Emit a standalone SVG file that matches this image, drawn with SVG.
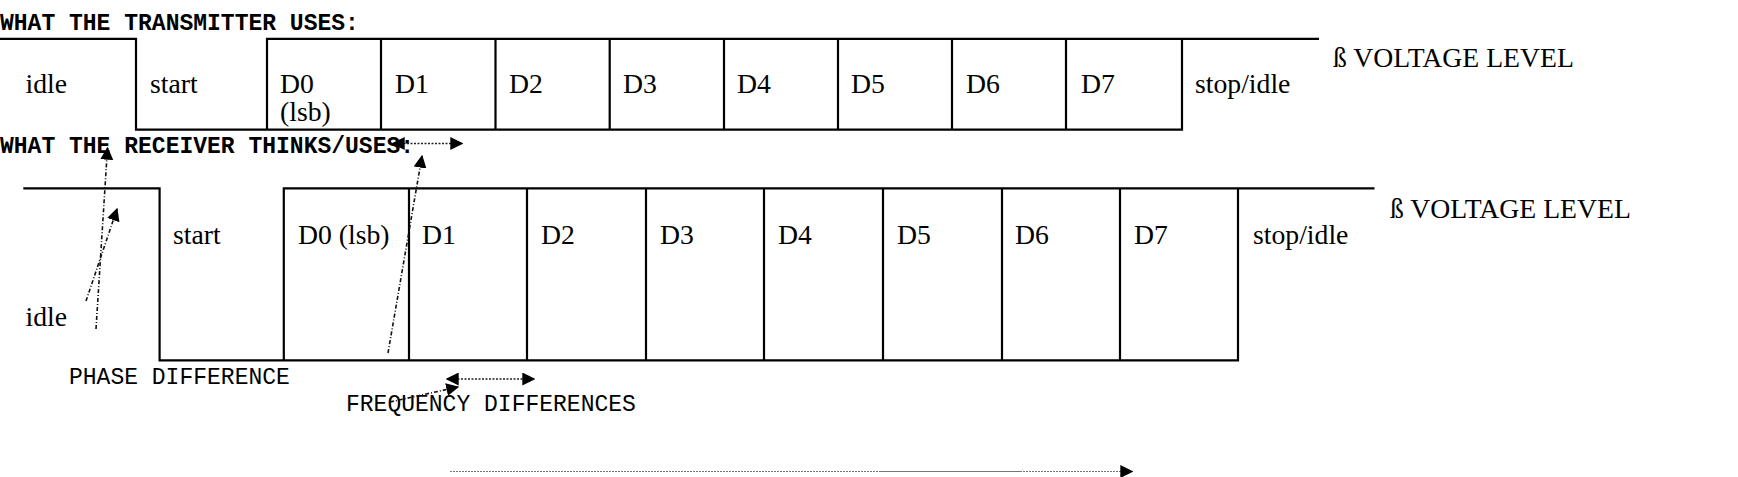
<svg xmlns="http://www.w3.org/2000/svg" width="1738" height="477" viewBox="0 0 1738 477">
<style>
.wave{fill:none;stroke:#000;stroke-width:2.2}
.title{font-family:"Liberation Mono",monospace;font-weight:bold;font-size:23px;fill:#000}
.mono{font-family:"Liberation Mono",monospace;font-size:23px;fill:#000}
.lbl{font-family:"Liberation Serif",serif;font-size:27.7px;fill:#000}
.arr{fill:none;stroke:#111;stroke-width:1.6;stroke-dasharray:4 2 1 2}
.dot{fill:none;stroke:#222;stroke-width:1.6;stroke-dasharray:2 1.5}
.thin{fill:none;stroke:#777;stroke-width:1;stroke-dasharray:2 1}
</style>
<defs>
<marker id="ah" viewBox="0 0 10 10" refX="9" refY="5" markerWidth="13" markerHeight="13" markerUnits="userSpaceOnUse" orient="auto-start-reverse">
<path d="M0,0 L10,5 L0,10 z" fill="#000"/>
</marker>
</defs>
<rect width="1738" height="477" fill="#fff"/>

<g id="title-transmitter"><text class="title" x="0" y="30">WHAT THE TRANSMITTER USES:</text></g>

<g id="transmitter-waveform">
<path class="wave" d="M0,38.8 H136 V129.7 H267 V38.8 H1319 M267,129.7 H1182 V38.8 M381,38.8 V129.7 M495.5,38.8 V129.7 M609.7,38.8 V129.7 M724,38.8 V129.7 M838,38.8 V129.7 M952,38.8 V129.7 M1066,38.8 V129.7"/>
</g>
<g id="tx-labels">
<text class="lbl" x="25.5" y="93">idle</text>
<text class="lbl" x="150" y="93">start</text>
<text class="lbl" x="280" y="93">D0</text>
<text class="lbl" x="280" y="121">(lsb)</text>
<text class="lbl" x="395" y="93">D1</text>
<text class="lbl" x="509" y="93">D2</text>
<text class="lbl" x="623" y="93">D3</text>
<text class="lbl" x="737" y="93">D4</text>
<text class="lbl" x="851" y="93">D5</text>
<text class="lbl" x="966" y="93">D6</text>
<text class="lbl" x="1081" y="93">D7</text>
<text class="lbl" x="1195" y="93">stop/idle</text>
<text class="lbl" x="1333" y="66.5">ß VOLTAGE LEVEL</text>
</g>

<g id="title-receiver"><text class="title" x="0" y="153">WHAT THE RECEIVER THINKS/USES:</text></g>

<g id="receiver-waveform">
<path class="wave" d="M23.3,188.4 H159.6 V360.3 H283.8 V188.4 H1374.5 M283.8,360.3 H1238 V188.4 M409,188.4 V360.3 M527,188.4 V360.3 M646,188.4 V360.3 M764,188.4 V360.3 M883,188.4 V360.3 M1002,188.4 V360.3 M1120,188.4 V360.3"/>
</g>
<g id="rx-labels">
<text class="lbl" x="173" y="244">start</text>
<text class="lbl" x="298" y="244">D0 (lsb)</text>
<text class="lbl" x="422" y="244">D1</text>
<text class="lbl" x="541" y="244">D2</text>
<text class="lbl" x="660" y="244">D3</text>
<text class="lbl" x="778" y="244">D4</text>
<text class="lbl" x="897" y="244">D5</text>
<text class="lbl" x="1015" y="244">D6</text>
<text class="lbl" x="1134" y="244">D7</text>
<text class="lbl" x="1253" y="244">stop/idle</text>
<text class="lbl" x="25.5" y="326">idle</text>
<text class="lbl" x="1390" y="218">ß VOLTAGE LEVEL</text>
</g>

<g id="notes">
<text class="mono" x="69" y="383.5">PHASE DIFFERENCE</text>
<text class="mono" x="346" y="411">FREQUENCY DIFFERENCES</text>
</g>

<g id="connectors">
<path class="arr" d="M96,329 L107.5,148" marker-end="url(#ah)"/>
<path class="arr" d="M86,301 L117,209" marker-end="url(#ah)"/>
<path class="arr" d="M388,353 L422,156" marker-end="url(#ah)"/>
<path class="dot" d="M393,143.5 L462,143.5" marker-start="url(#ah)" marker-end="url(#ah)"/>
<path class="dot" d="M447,379 L534,379" marker-start="url(#ah)" marker-end="url(#ah)"/>
<path class="arr" d="M390,402 L458,387" marker-end="url(#ah)"/>
<path class="thin" d="M450,471.5 H879"/>
<path d="M879,471.5 H1020" stroke="#777" stroke-width="1.2" fill="none"/>
<path class="thin" d="M1020,471.5 H1132" marker-end="url(#ah)"/>
</g>
</svg>
